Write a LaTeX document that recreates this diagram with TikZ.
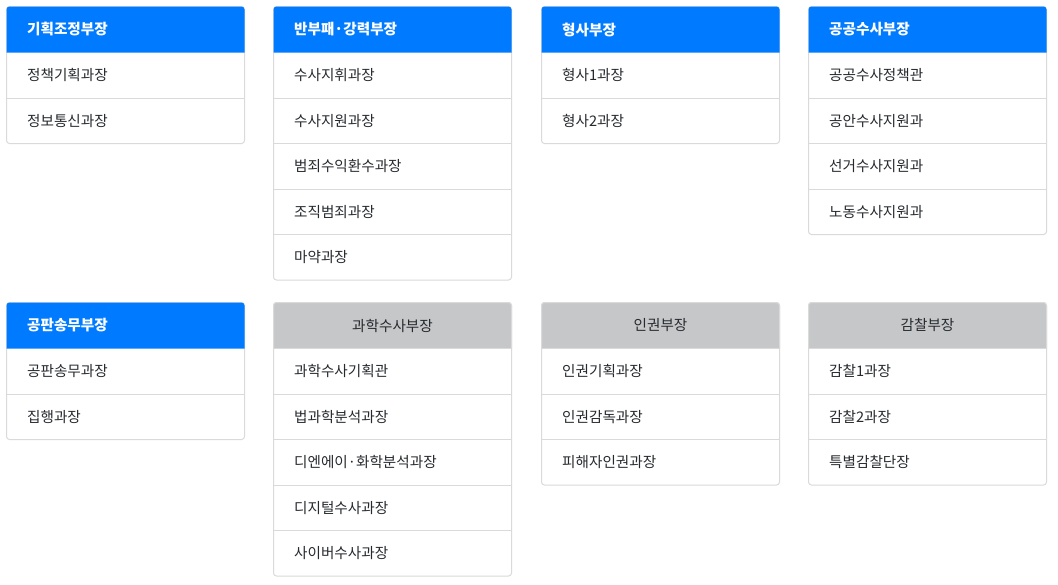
\documentclass[tikz,border=0pt]{standalone}
\usepackage{fontspec}
\setmainfont{Noto Sans CJK KR}
\definecolor{hdrblue}{HTML}{007BFF}
\definecolor{hdrgray}{HTML}{C6C7C8}
\definecolor{brd}{HTML}{DADADA}
\definecolor{txt}{HTML}{262A2E}
\tikzset{
  cardborder/.style={draw=brd, line width=1pt, rounded corners=3pt},
  sepline/.style={draw=brd, line width=1pt},
  itemtext/.style={anchor=west, inner sep=0pt, text=txt, font=\fontsize{14.6}{17}\selectfont},
  bluetitle/.style={anchor=west, inner sep=0pt, text=white, font=\fontsize{14.6}{17}\selectfont\bfseries},
  graytitle/.style={anchor=center, inner sep=0pt, text=txt, font=\fontsize{14.6}{17}\selectfont},
}
% #1 id, #2 x, #3 y, #4 number of items, #5 item list
\newcommand\cardbody[5]{%
  \draw[cardborder] (#2,#3) rectangle ({#2+238},{#3+46+#4*45.5});
  \foreach \t [count=\i] in {#5} {
    \node[itemtext] (#1-\i) at ({#2+20.5},{#3+46+(\i-0.5)*45.5}) {\t};
  }
  \ifnum#4>1
    \foreach \k in {2,...,#4} {
      \draw[sepline] (#2,{#3+46+(\k-1)*45.5}) -- ({#2+238},{#3+46+(\k-1)*45.5});
    }
  \fi
}
% #1 id, #2 x, #3 y, #4 title, #5 n, #6 items
\newcommand\bluecard[6]{%
  \cardbody{#1}{#2}{#3}{#5}{#6}
  \fill[hdrblue] (#2,{#3+46}) {[rounded corners=3pt] -- (#2,#3) -- ({#2+238},#3)} -- ({#2+238},{#3+46}) -- cycle;
  \node[bluetitle] (#1-h) at ({#2+20.5},{#3+23}) {#4};
}
\newcommand\graycard[6]{%
  \cardbody{#1}{#2}{#3}{#5}{#6}
  \fill[hdrgray] (#2,{#3+46}) {[rounded corners=3pt] -- (#2,#3) -- ({#2+238},#3)} -- ({#2+238},{#3+46}) -- cycle;
  \draw[brd, line width=1pt] (#2,{#3+46}) {[rounded corners=3pt] -- (#2,#3) -- ({#2+238},#3)} -- ({#2+238},{#3+46});
  \node[graytitle] (#1-h) at ({#2+119},{#3+23}) {#4};
}
\begin{document}
\begin{tikzpicture}[x=1pt,y=-1pt]
\fill[white] (0,0) rectangle (1058,584);
\useasboundingbox (0,0) rectangle (1058,584);
\bluecard{a}{6.5}{6.5}{기획조정부장}{2}{정책기획과장,정보통신과장}
\bluecard{b}{273.5}{6.5}{반부패·강력부장}{5}{수사지휘과장,수사지원과장,범죄수익환수과장,조직범죄과장,마약과장}
\bluecard{c}{541.5}{6.5}{형사부장}{2}{형사1과장,형사2과장}
\bluecard{d}{808.5}{6.5}{공공수사부장}{4}{공공수사정책관,공안수사지원과,선거수사지원과,노동수사지원과}
\bluecard{e}{6.5}{302.5}{공판송무부장}{2}{공판송무과장,집행과장}
\graycard{f}{273.5}{302.5}{과학수사부장}{5}{과학수사기획관,법과학분석과장,디엔에이·화학분석과장,디지털수사과장,사이버수사과장}
\graycard{g}{541.5}{302.5}{인권부장}{3}{인권기획과장,인권감독과장,피해자인권과장}
\graycard{h}{808.5}{302.5}{감찰부장}{3}{감찰1과장,감찰2과장,특별감찰단장}
\end{tikzpicture}
\end{document}
